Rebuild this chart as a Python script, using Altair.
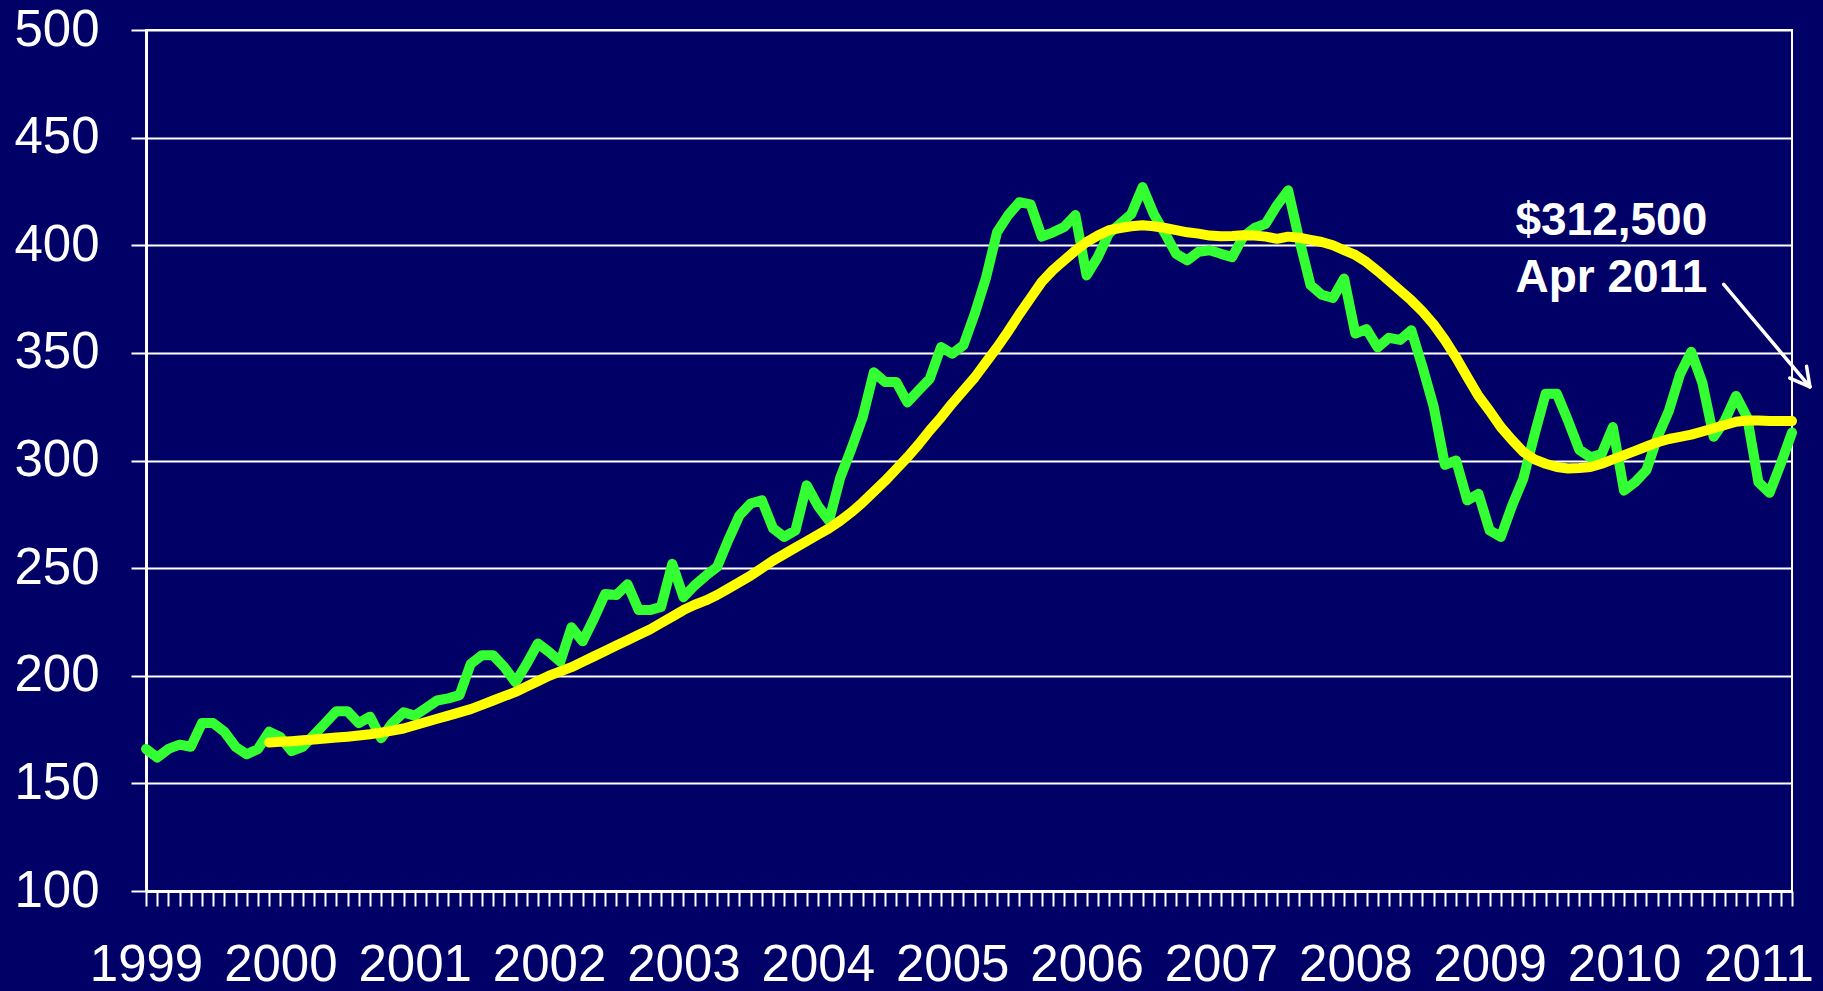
import altair as alt
import pandas as pd

# ---------------- data ----------------
first_year = 1999
months = [f"{y}-{m:02d}" for y in range(1999, 2012) for m in range(1, 13)][:148]  # Jan 1999 .. Apr 2011

median_price = [
    166, 162, 166, 168, 167, 178, 178, 174, 167, 163.5, 166, 174,          # 1999
    171.5, 165, 167, 172.5, 178, 183.5, 183.5, 178, 181, 171, 178, 183,    # 2000
    181.5, 185, 188.5, 189.5, 191, 205.5, 209.5, 209.5, 204, 197, 205.5, 215,  # 2001
    211, 206.5, 222.5, 216, 226.5, 238, 237.5, 242.5, 230.5, 230.5, 232, 252,  # 2002
    236.5, 242, 246.5, 250.5, 263, 274.5, 280, 281.5, 268.5, 264.5, 267.5, 288.5,  # 2003
    279, 272, 292, 305.5, 320, 341, 336.5, 336.5, 327, 332.6, 338, 352.7,  # 2004
    349.6, 353.5, 368, 384.5, 406, 414, 420, 419, 404, 406, 408.5, 414,    # 2005
    386, 394.5, 405.5, 410, 414.5, 427, 414.5, 405.5, 396, 393, 397, 397.7,  # 2006
    396, 394.5, 404, 408, 410, 418.5, 425.5, 402.5, 381.5, 377, 375.5, 384.5,  # 2007
    359, 361, 352.5, 357, 356, 360.5, 343.5, 325, 298, 300, 281.5, 284.5,  # 2008
    267.5, 264.5, 279, 291.5, 312, 331, 331, 318.5, 305, 301.5, 303, 315.5,  # 2009
    286, 290, 295.5, 311, 323, 340, 350.5, 336, 311, 318.5, 330, 320,      # 2010
    290, 285, 298.5, 313,                                                  # 2011
]

# 12-month moving average, first value Dec 1999
moving_avg = [
    169.0,                                                                  # Dec 1999
    169.3, 169.6, 170.0, 170.4, 170.8, 171.3, 171.7, 172.2, 172.8, 173.6, 174.5, 175.5,  # 2000
    177.0, 178.5, 180.0, 181.5, 183.0, 184.5, 186.5, 188.5, 190.5, 192.5, 195.0, 197.5,  # 2001
    200.0, 202.0, 204.0, 206.5, 209.0, 211.5, 214.0, 216.5, 219.0, 221.5, 224.5, 227.5,  # 2002
    230.5, 233.0, 235.0, 237.5, 240.5, 243.5, 246.5, 250.0, 253.5, 256.5, 259.5, 262.5,  # 2003
    265.5, 268.5, 272.0, 276.0, 280.5, 285.5, 290.5, 296.0, 301.5, 307.5, 314.0, 320.0,  # 2004
    326.5, 332.5, 338.5, 345.5, 352.5, 360.0, 368.0, 375.5, 383.0, 388.5, 393.0, 397.5,  # 2005
    401.5, 404.5, 407.0, 408.0, 408.8, 409.3, 408.8, 408.0, 407.0, 406.0, 405.4, 404.5,  # 2006
    404.2, 404.3, 404.6, 404.5, 404.0, 403.0, 404.0, 403.5, 402.5, 401.5, 400.0, 397.7,  # 2007
    395.5, 392.2, 388.0, 383.5, 379.0, 374.4, 369.2, 363.2, 356.0, 347.8, 338.8, 330.0,  # 2008
    323.0, 315.5, 309.5, 304.0, 300.5, 298.5, 297.0, 296.3, 296.5, 297.0, 298.5, 300.5,  # 2009
    302.5, 304.5, 306.5, 308.5, 310.0, 311.0, 312.0, 313.5, 315.0, 316.5, 318.0, 318.6,  # 2010
    318.6, 318.3, 318.3, 318.3,                                             # 2011
]

y_ticks = [100, 150, 200, 250, 300, 350, 400, 450, 500]

note_lines = ["$312,500", "Apr 2011"]
note_x = [122.3, 122.3]          # month position of the note
note_y = [404.6, 378.4]          # baseline of each line, in price units

# arrow: shaft and the two strokes of the head (month position, price)
arrow_x = [140.9, 148.6, 148.6]
arrow_y = [381.8, 334.2, 334.2]
arrow_x2 = [148.6, 146.8, 148.3]
arrow_y2 = [334.2, 338.3, 343.8]

# ---------------- page: navy background, chart fills the whole window ----------------
try:
    import altair.utils.html as _alt_html
    _std_template = _alt_html.TEMPLATES["standard"]

    class _NavyPage:
        def render(self, *args, **kwargs):
            html = _std_template.render(*args, **kwargs)
            style = ("<style>html,body{background:#000066;margin:0;padding:0;"
                     "overflow:hidden;}</style>")
            return html.replace("<head>", "<head>\n" + style, 1)

    _alt_html.TEMPLATES["standard"] = _NavyPage()
except Exception:
    pass

# ---------------- tables ----------------
n = len(months)
green_df = pd.DataFrame({"idx": list(range(n)), "month": months, "price": median_price})
start = n - len(moving_avg)
yellow_df = pd.DataFrame({"idx": list(range(start, n)), "month": months[start:], "avg": moving_avg})
note_df = pd.DataFrame({"x": note_x, "y": note_y, "t": note_lines})
arrow_df = pd.DataFrame({"x": arrow_x, "y": arrow_y, "x2": arrow_x2, "y2": arrow_y2})

FONT = "Liberation Sans"
BG = "#000066"

x_scale = alt.Scale(domain=[0, n - 1], nice=False, zero=False)
y_scale = alt.Scale(domain=[100, 500], nice=False, zero=False)

x_axis = alt.Axis(
    values=list(range(n)),
    tickCount=400,
    labelExpr=f"datum.value % 12 == 0 ? format({first_year} + datum.value / 12, 'd') : ''",
    title=None,
    grid=False,
    domainColor="white",
    domainWidth=3,
    tickColor="white",
    tickWidth=2,
    tickSize=15,
    labelColor="white",
    labelFont=FONT,
    labelFontSize=51,
    labelPadding=34,
    labelOverlap=False,
    labelFlush=False,
    labelBound=False,
)

y_axis = alt.Axis(
    values=y_ticks,
    title=None,
    grid=True,
    gridColor="white",
    gridWidth=2,
    gridOpacity=1,
    domainColor="white",
    domainWidth=3,
    tickColor="white",
    tickWidth=2,
    tickSize=15,
    labelColor="white",
    labelFont=FONT,
    labelFontSize=51,
    labelPadding=32,
    labelOverlap=False,
    labelFlush=False,
)

green = alt.Chart(green_df).mark_line(
    color="#33FF33", strokeWidth=10, strokeCap="round", strokeJoin="round"
).encode(
    x=alt.X("idx:Q", scale=x_scale, axis=x_axis),
    y=alt.Y("price:Q", scale=y_scale, axis=y_axis),
    order="idx:Q",
)

yellow = alt.Chart(yellow_df).mark_line(
    color="#FFFF00", strokeWidth=10, strokeCap="round", strokeJoin="round"
).encode(
    x=alt.X("idx:Q", scale=x_scale),
    y=alt.Y("avg:Q", scale=y_scale),
    order="idx:Q",
)

arrow = alt.Chart(arrow_df).mark_rule(color="white", strokeWidth=3.5, strokeCap="round").encode(
    x=alt.X("x:Q", scale=x_scale),
    y=alt.Y("y:Q", scale=y_scale),
    x2="x2:Q",
    y2="y2:Q",
)

note = alt.Chart(note_df).mark_text(
    color="white", font=FONT, fontSize=46, fontWeight="bold",
    align="left", baseline="alphabetic",
).encode(
    x=alt.X("x:Q", scale=x_scale),
    y=alt.Y("y:Q", scale=y_scale),
    text="t:N",
)

chart = alt.layer(green, yellow, arrow, note).properties(
    width=1646,
    height=861,
    background=BG,
    autosize=alt.AutoSizeParams(type="none"),
    padding={"left": 146, "top": 30, "right": 31, "bottom": 100},
).configure_view(
    stroke="white",
    strokeWidth=2,
    fill=BG,
)

chart.save("out.html", embed_options={"renderer": "svg", "actions": False})
